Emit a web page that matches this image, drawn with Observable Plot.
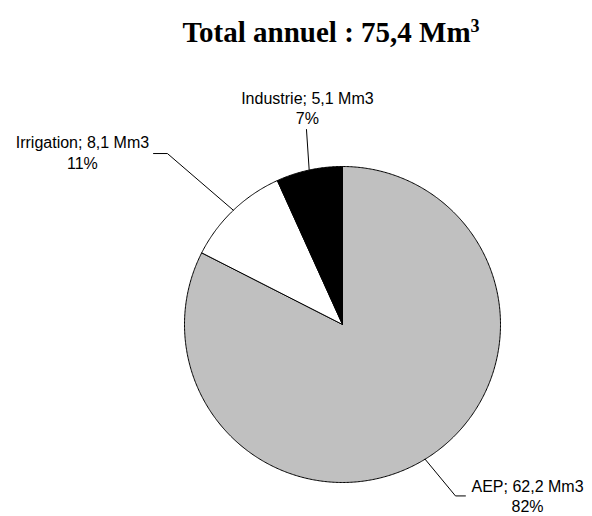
<!DOCTYPE html>
<html><head><meta charset="utf-8">
<script src="https://cdn.jsdelivr.net/npm/d3@7"></script>
<script src="https://cdn.jsdelivr.net/npm/@observablehq/plot@0.6"></script>
<style>body{margin:0;background:#fff}</style>
</head><body>
<div id="wrap" style="position:relative;width:592px;height:516px;background:#fff">
<div id="chart" style="position:absolute;left:0;top:0"></div>
<div id="title" style="position:absolute;left:0;top:18px;width:662px;text-align:center;font:bold 29px 'Liberation Serif','Times New Roman',serif;line-height:29px;white-space:nowrap;color:#000">Total annuel : 75,4 Mm<span style="font-size:18px;position:relative;top:-10px">3</span></div>
</div>
<script>
// Data
const categories = ["AEP", "Irrigation", "Industrie"];
const volumes = [62.2, 8.1, 5.1];
const colors = ["#c0c0c0", "#ffffff", "#000000"];
const unit = "Mm3";

// Label layout (in units of pie radius, relative to centre)
const labelElbow = [[0.715, -1.085], [-1.108, 1.082], null];
const labelEnd = [[0.778, -1.085], [-1.196, 1.082], [-0.228, 1.234]];
const labelPos = [[1.171, -1.083], [-1.646, 1.092], [-0.222, 1.373]];

const total = d3.sum(volumes);
const arcs = d3.pie().sort(null).startAngle(0).endAngle(2 * Math.PI)(volumes);

const marks = [];
arcs.forEach((a, i) => {
  const pts = [[0, 0]];
  const n = Math.max(8, Math.ceil((a.endAngle - a.startAngle) / (Math.PI / 360)));
  for (let k = 0; k <= n; k++) {
    const t = a.startAngle + (a.endAngle - a.startAngle) * k / n;
    pts.push([Math.sin(t), Math.cos(t)]);
  }
  pts.push([0, 0]);
  marks.push(Plot.line(pts, {x: d => d[0], y: d => d[1], fill: colors[i], stroke: "#000", strokeWidth: 1, strokeLinejoin: "round"}));
});

const labels = arcs.map((a, i) => {
  const mid = (a.startAngle + a.endAngle) / 2;
  const edge = [Math.sin(mid), Math.cos(mid)];
  const path = [edge];
  if (labelElbow[i]) path.push(labelElbow[i]);
  path.push(labelEnd[i]);
  marks.push(Plot.line(path, {x: d => d[0], y: d => d[1], stroke: "#000", strokeWidth: 1}));
  const text = `${categories[i]}; ${String(volumes[i]).replace(".", ",")} ${unit}\n${Math.round(volumes[i] / total * 100)}%`;
  return {x: labelPos[i][0], y: labelPos[i][1], text};
});
marks.push(Plot.text(labels, {x: "x", y: "y", text: "text", fontSize: 16, lineHeight: 1.28, textAnchor: "middle", fill: "#000"}));

const chart = Plot.plot({
  width: 592,
  height: 516,
  x: {domain: [-1, 1], range: [184, 500], axis: null},
  y: {domain: [-1, 1], range: [482, 166], axis: null},
  style: {fontFamily: "'Liberation Sans', Arial, sans-serif", background: "transparent"},
  marks
});
document.getElementById("chart").appendChild(chart);
</script>
</body></html>
